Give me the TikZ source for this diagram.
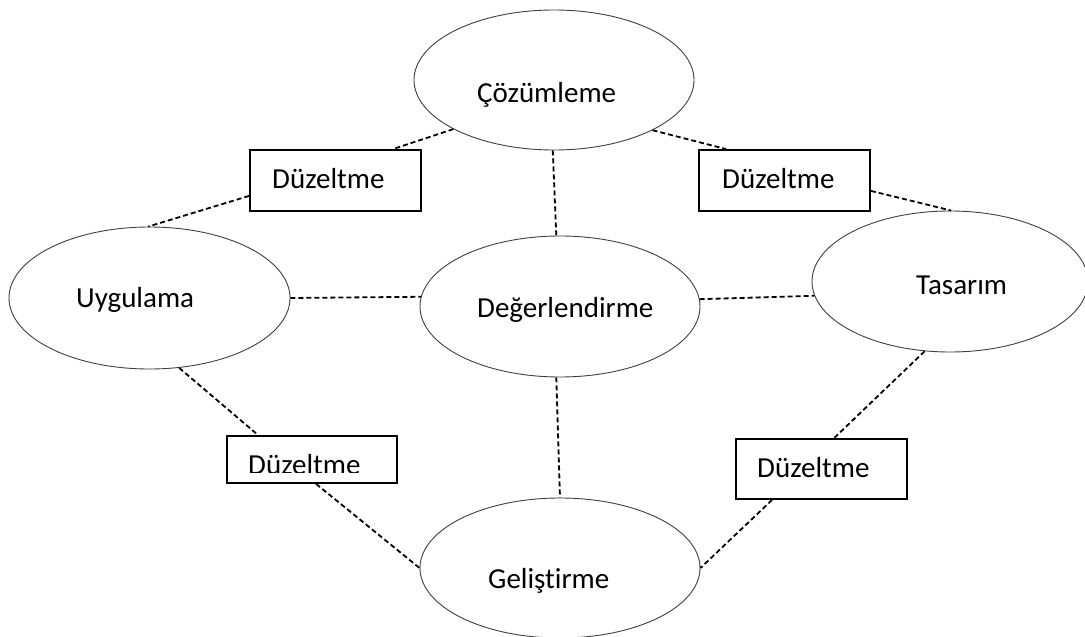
\documentclass[tikz,border=0pt]{standalone}
\usepackage{fontspec}
\setmainfont[Ligatures=NoCommon]{Carlito}
\usetikzlibrary{shapes.geometric,calc}
\tikzset{
  phase/.style={ellipse, draw=black!75, line width=0.9pt, inner sep=0pt, fill=white},
  fixbox/.style={rectangle, draw=black, line width=1.8pt, inner sep=0pt, fill=white},
  lbl/.style={anchor=base west, inner sep=0pt, font=\fontsize{29}{34}\selectfont},
  link/.style={draw=black, line width=1.8pt, dash pattern=on 5pt off 3pt}
}
\begin{document}
\begin{tikzpicture}[x=1pt,y=-1pt]
\useasboundingbox (0,0) rectangle (1085,637);

% phases
\node[phase, minimum width=280, minimum height=140] (coz) at (554,80) {};
\node[phase, minimum width=281, minimum height=142] (uyg) at (149.5,298) {};
\node[phase, minimum width=280, minimum height=141] (deg) at (560,306.5) {};
\node[phase, minimum width=276, minimum height=141] (tas) at (950,281.5) {};
\node[phase, minimum width=280, minimum height=140] (gel) at (560,568) {};

% correction boxes
\node[fixbox, minimum width=171, minimum height=61] (fixtl) at (335.5,180.5) {};
\node[fixbox, minimum width=171, minimum height=61] (fixtr) at (784.5,180.5) {};
\node[fixbox, minimum width=170, minimum height=47] (fixbl) at (312,459.5) {};
\node[fixbox, minimum width=171, minimum height=60] (fixbr) at (821.5,469) {};

% connectors
\draw[link] (coz.206.6) -- ($(fixtl.north east)+(-29,0)$);
\draw[link] ($(fixtl.south west)+(0,-16)$) -- (uyg.91);
\draw[link] (coz.333.2) -- ($(fixtr.north west)+(28,0)$);
\draw[link] ($(fixtr.south east)+(0,-21)$) -- (tas.89);
\draw[link] (coz.269.2) -- (deg.93.2);
\draw[link] (uyg.east) -- (deg.176.5);
\draw[link] (deg.3.5) -- (tas.186.8);
\draw[link] (deg.267.6) -- (gel.north);
\draw[link] (uyg.293) -- ($(fixbl.north west)+(32,0)$);
\draw[link] ($(fixbl.south west)+(90,0)$) -- (gel.west);
\draw[link] (tas.250.5) -- ($(fixbr.north west)+(99,0)$);
\draw[link] ($(fixbr.south west)+(37,0)$) -- (gel.east);

% redraw boxes over the connector ends
\node[fixbox, minimum width=171, minimum height=61] at (fixtl) {};
\node[fixbox, minimum width=171, minimum height=61] at (fixtr) {};
\node[fixbox, minimum width=170, minimum height=47] at (fixbl) {};
\node[fixbox, minimum width=171, minimum height=60] at (fixbr) {};

% labels
\node[lbl] (tcoz) at (477,102) {Çözümleme};
\node[lbl] (tuyg) at (76,307) {Uygulama};
\node[lbl] (tdeg) at (477,317) {Değerlendirme};
\node[lbl] (ttas) at (916,294) {Tasarım};
\node[lbl] (tgel) at (488,588) {Geliştirme};
\node[lbl] (ttl) at (272,188) {Düzeltme};
\node[lbl] (ttr) at (722,188) {Düzeltme};
\node[lbl] (tbr) at (757,477) {Düzeltme};
\begin{scope}
  \clip (228,437) rectangle (396,472);
  \node[lbl] (tbl) at (248,474) {Düzeltme};
\end{scope}
\end{tikzpicture}
\end{document}
